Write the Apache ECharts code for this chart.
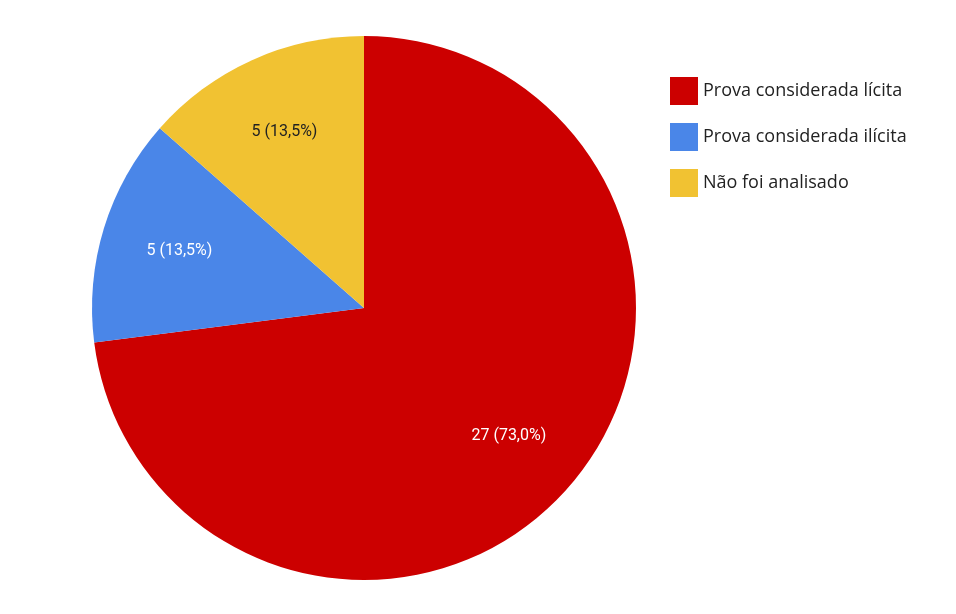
<!DOCTYPE html>
<html>
<head>
<meta charset="utf-8">
<script src="https://cdn.jsdelivr.net/npm/echarts@6/dist/echarts.min.js"></script>
<style>html,body{margin:0;padding:0;background:#fff}#chart{width:956px;height:614px}</style>
</head>
<body>
<div id="chart"></div>
<script>
var categories = ['Prova considerada lícita', 'Prova considerada ilícita', 'Não foi analisado'];
var values = [27, 5, 5];
var labels = ['27 (73,0%)', '5 (13,5%)', '5 (13,5%)'];
var colors = ['#cc0000', '#4a86e8', '#f1c232'];
var labelColors = ['#ffffff', '#ffffff', '#222222'];

var myChart = echarts.init(document.getElementById('chart'));
var pieData = [], labelData = [];
for (var i = 0; i < categories.length; i++) {
    pieData.push({ name: categories[i], value: values[i], itemStyle: { color: colors[i] } });
    labelData.push({
        name: categories[i], value: values[i],
        itemStyle: { color: 'rgba(0,0,0,0)' },
        label: { color: labelColors[i], formatter: labels[i] }
    });
}
var option = {
    animation: false,
    legend: {
        orient: 'vertical',
        left: 665, top: 72,
        itemWidth: 28, itemHeight: 28, itemGap: 18,
        icon: 'rect',
        data: categories,
        textStyle: { fontFamily: 'Open Sans', fontSize: 18, color: '#222' }
    },
    series: [
        {
            type: 'pie', center: [364, 308], radius: [0, 272],
            startAngle: 90, clockwise: true,
            label: { show: false }, labelLine: { show: false },
            emphasis: { disabled: true },
            data: pieData
        },
        {
            type: 'pie', center: [364, 308], radius: [0, 380],
            startAngle: 90, clockwise: true, silent: true,
            legendHoverLink: false,
            label: { show: true, position: 'inside', fontFamily: 'Roboto', fontSize: 16 },
            labelLine: { show: false },
            data: labelData
        }
    ]
};
myChart.setOption(option);
</script>
</body>
</html>
